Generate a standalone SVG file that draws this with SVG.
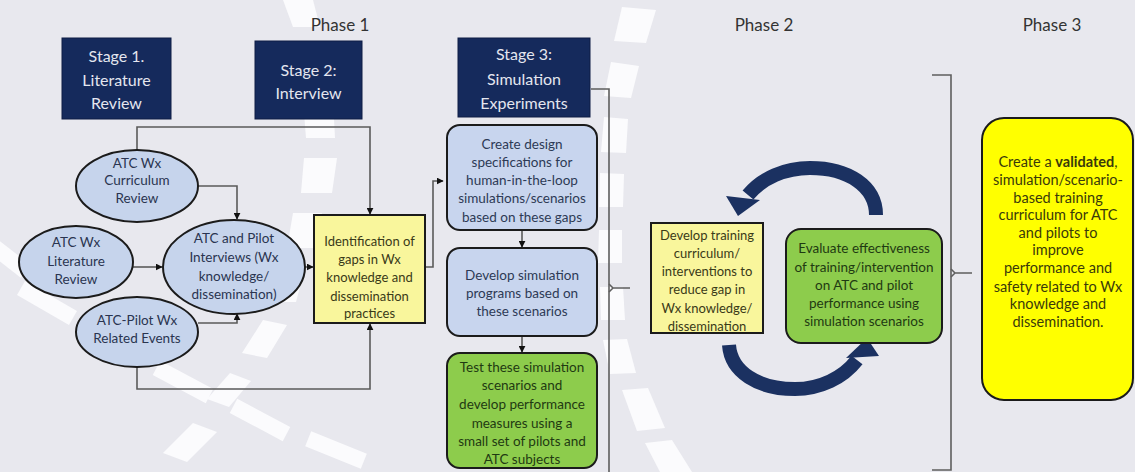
<svg xmlns="http://www.w3.org/2000/svg" width="1135" height="472" viewBox="0 0 1135 472">
  <defs>
    <style>
      .bg { fill: #e8e8ee; }
      .dash { fill: #fbfbfd; }
      .phase { font-family: Lato, "Liberation Sans", sans-serif; font-size: 17px; fill: #333; text-anchor: middle; }
      .stage rect { fill: #152a5c; stroke: #0e1d44; stroke-width: 1; }
      .stage text { font-family: Lato, "Liberation Sans", sans-serif; font-size: 16px; fill: #e4e6ef; text-anchor: middle; }
      .ell ellipse { fill: #c6d4ec; stroke: #1b1b1b; stroke-width: 2; }
      .ell text { font-family: Lato, "Liberation Sans", sans-serif; font-size: 13.5px; fill: #2a3450; text-anchor: middle; }
      .pale rect { fill: #f9f69c; stroke: #1b1b1b; stroke-width: 2; }
      .pale text { font-family: Lato, "Liberation Sans", sans-serif; font-size: 13px; fill: #3a3a18; text-anchor: middle; }
      .blue rect { fill: #c8d5ee; stroke: #1b1b1b; stroke-width: 2; }
      .blue text { font-family: Lato, "Liberation Sans", sans-serif; font-size: 13.5px; fill: #2d3a55; text-anchor: middle; }
      .green rect { fill: #8dcc4c; stroke: #1b1b1b; stroke-width: 2; }
      .green text { font-family: Lato, "Liberation Sans", sans-serif; font-size: 13.5px; fill: #1f3a12; text-anchor: middle; }
      .goal rect { fill: #ffff00; stroke: #1b1b1b; stroke-width: 2; }
      .goal text { font-family: Lato, "Liberation Sans", sans-serif; font-size: 14.5px; fill: #3a3a0a; text-anchor: middle; }
      .link { fill: none; stroke: #5a5a5a; stroke-width: 1.6; }
      .brace { fill: none; stroke: #5e5e5e; stroke-width: 1.6; }
      .cycle { fill: none; stroke: #1b3161; stroke-width: 14; }
      .cyclehead { fill: #1b3161; }
    </style>
    <marker id="ah" viewBox="0 0 10 10" refX="9" refY="5" markerWidth="7" markerHeight="7" markerUnits="userSpaceOnUse" orient="auto">
      <path d="M0,0 L10,5 L0,10 z" fill="#111"/>
    </marker>
  </defs>

  <!-- backdrop with dashed road markings -->
  <rect class="bg" x="0" y="0" width="1135" height="472"/>
  <g id="road-markings">
    <!-- lane running from the top toward the lower left -->
    <polygon class="dash" points="283,0 313,0 320,27 293,27"/>
    <polygon class="dash" points="303,100 333,100 335,138 306,138"/>
    <polygon class="dash" points="304,158 337,158 332,193 301,193"/>
    <polygon class="dash" points="293,213 322,213 315,248 287,248"/>
    <polygon class="dash" points="276,268 305,268 296,302 266,302"/>
    <polygon class="dash" points="263,320 287,325 267,358 242,353"/>
    <polygon class="dash" points="230,373 251,381 229,407 207,399"/>
    <polygon class="dash" points="193,423 217,432 187,462 163,453"/>
    <!-- lane running from the left toward the lower right -->
    <rect class="dash" x="-25" y="-8" width="50" height="16" transform="translate(6,256) rotate(38)"/>
    <rect class="dash" x="-30" y="-8" width="60" height="16" transform="translate(47,303) rotate(30)"/>
    <rect class="dash" x="-30" y="-8" width="60" height="16" transform="translate(183,382) rotate(28)"/>
    <rect class="dash" x="-30" y="-8" width="60" height="16" transform="translate(260,420) rotate(28)"/>
    <rect class="dash" x="-30" y="-8" width="60" height="16" transform="translate(336,450) rotate(22)"/>
    <!-- lane on the right of stage 3 -->
    <polygon class="dash" points="622,7 656,10 646,43 614,41"/>
    <polygon class="dash" points="611,62 639,66 631,98 604,96"/>
    <polygon class="dash" points="604,117 628,119 626,153 601,152"/>
    <polygon class="dash" points="600,173 624,174 623,207 599,207"/>
    <polygon class="dash" points="599,230 622,230 622,263 598,263"/>
    <polygon class="dash" points="600,287 623,287 625,320 601,320"/>
    <polygon class="dash" points="603,340 627,339 636,373 610,374"/>
    <polygon class="dash" points="622,390 648,388 665,428 637,431"/>
    <polygon class="dash" points="645,443 672,440 692,472 660,472"/>
  </g>

  <!-- phase headings -->
  <g id="phase-headings">
    <text class="phase" x="340" y="31">Phase 1</text>
    <text class="phase" x="764" y="31">Phase 2</text>
    <text class="phase" x="1052" y="31">Phase 3</text>
  </g>

  <!-- connectors -->
  <g id="connectors">
    <path class="link" d="M137 150 V127 H370 V214" marker-end="url(#ah)"/>
    <path class="link" d="M198 186 H237 V219" marker-end="url(#ah)"/>
    <path class="link" d="M133 267 H162" marker-end="url(#ah)"/>
    <path class="link" d="M198 323 H237 V314" marker-end="url(#ah)"/>
    <path class="link" d="M304 267 H313" marker-end="url(#ah)"/>
    <path class="link" d="M137 367 V389 H370 V324" marker-end="url(#ah)"/>
    <path class="link" d="M426 267 H433 V181 H443" marker-end="url(#ah)"/>
    <path class="link" d="M522 230 V247" marker-end="url(#ah)"/>
    <path class="link" d="M522 336 V352" marker-end="url(#ah)"/>
    <!-- braces grouping stage 3 into phase 2 and phase 2 into phase 3 -->
    <path class="brace" d="M591 89 H609 V472"/>
    <path class="brace" d="M609 284 L613 288 H630 M613 288 L609 292"/>
    <path class="brace" d="M932 75 H951 V470 H932"/>
    <path class="brace" d="M951 269 L955 273 H972 M955 273 L951 277"/>
    <!-- improvement cycle arrows -->
    <path class="cycle" d="M876 215 C876 186 848 168 810 168 C785 168 762 178 748 195"/>
    <polygon class="cyclehead" points="726,196 760,200 738,216"/>
    <path class="cycle" d="M729 345 C731 372 758 389 795 389 C820 389 843 378 857 360" style="stroke-width:14"/>
    <polygon class="cyclehead" points="846,358 879,356 867,338"/>
  </g>

  <!-- stage headers -->
  <g id="stage1" class="stage">
    <rect x="62" y="38" width="109" height="81"/>
    <text x="116.5" y="62">Stage 1.</text>
    <text x="116.5" y="86">Literature</text>
    <text x="116.5" y="109">Review</text>
  </g>
  <g id="stage2" class="stage">
    <rect x="255" y="41" width="107" height="78"/>
    <text x="308.5" y="76">Stage 2:</text>
    <text x="308.5" y="99">Interview</text>
  </g>
  <g id="stage3" class="stage">
    <rect x="458" y="38" width="132" height="79"/>
    <text x="524" y="60">Stage 3:</text>
    <text x="524" y="85">Simulation</text>
    <text x="524" y="109">Experiments</text>
  </g>

  <!-- stage 1 and 2 sources -->
  <g id="curriculum-review" class="ell">
    <ellipse cx="137" cy="186" rx="61" ry="36"/>
    <text x="137" y="167.5">ATC Wx</text>
    <text x="137" y="184.5">Curriculum</text>
    <text x="137" y="202.5">Review</text>
  </g>
  <g id="literature-review" class="ell">
    <ellipse cx="76" cy="262" rx="57" ry="36"/>
    <text x="76" y="246.5">ATC Wx</text>
    <text x="76" y="265.5">Literature</text>
    <text x="76" y="283.5">Review</text>
  </g>
  <g id="interviews" class="ell">
    <ellipse cx="234" cy="267" rx="71" ry="47"/>
    <text x="234" y="242.5">ATC and Pilot</text>
    <text x="234" y="261.5">Interviews (Wx</text>
    <text x="234" y="281">knowledge/</text>
    <text x="234" y="298.5">dissemination)</text>
  </g>
  <g id="related-events" class="ell">
    <ellipse cx="137" cy="332" rx="61" ry="35"/>
    <text x="137" y="324.5">ATC-Pilot Wx</text>
    <text x="137" y="342.5">Related Events</text>
  </g>
  <g id="gap-identification" class="pale">
    <rect x="314" y="215" width="111" height="108"/>
    <text x="369.5" y="245.5">Identification of</text>
    <text x="369.5" y="263.5">gaps in Wx</text>
    <text x="369.5" y="281.5">knowledge and</text>
    <text x="369.5" y="300.5">dissemination</text>
    <text x="369.5" y="317.5">practices</text>
  </g>

  <!-- stage 3 steps -->
  <g id="design-specs" class="blue">
    <rect x="447" y="125" width="150" height="105" rx="13"/>
    <text x="522" y="148.5">Create design</text>
    <text x="522" y="166.5">specifications for</text>
    <text x="522" y="184.5">human-in-the-loop</text>
    <text x="522" y="202.5">simulations/scenarios</text>
    <text x="522" y="221.5">based on these gaps</text>
  </g>
  <g id="simulation-programs" class="blue">
    <rect x="447" y="248" width="150" height="88" rx="13"/>
    <text x="522" y="279.5">Develop simulation</text>
    <text x="522" y="297.5">programs based on</text>
    <text x="522" y="315.5">these scenarios</text>
  </g>
  <g id="scenario-tests" class="green">
    <rect x="447" y="353" width="150" height="115" rx="13"/>
    <text x="522" y="371.5">Test these simulation</text>
    <text x="522" y="389.5">scenarios and</text>
    <text x="522" y="408.5">develop performance</text>
    <text x="522" y="427.5">measures using a</text>
    <text x="522" y="445.5">small set of pilots and</text>
    <text x="522" y="463.5">ATC subjects</text>
  </g>

  <!-- phase 2 cycle -->
  <g id="training-development" class="pale">
    <rect x="651" y="223" width="112" height="110"/>
    <text x="707" y="239.5">Develop training</text>
    <text x="707" y="257.5">curriculum/</text>
    <text x="707" y="275.5">interventions to</text>
    <text x="707" y="293.5">reduce gap in</text>
    <text x="707" y="312.5">Wx knowledge/</text>
    <text x="707" y="330.5">dissemination</text>
  </g>
  <g id="training-evaluation" class="green">
    <rect x="786" y="229" width="156" height="114" rx="15"/>
    <text x="864" y="252.5">Evaluate effectiveness</text>
    <text x="864" y="271.5">of training/intervention</text>
    <text x="864" y="289.5">on ATC and pilot</text>
    <text x="864" y="307.5">performance using</text>
    <text x="864" y="325.5">simulation scenarios</text>
  </g>

  <!-- phase 3 outcome -->
  <g id="validated-curriculum" class="goal">
    <rect x="982" y="118" width="151" height="282" rx="22"/>
    <text x="1058" y="167">Create a <tspan font-weight="bold">validated</tspan>,</text>
    <text x="1058" y="185">simulation/scenario-</text>
    <text x="1058" y="203">based training</text>
    <text x="1058" y="220">curriculum for ATC</text>
    <text x="1058" y="238">and pilots to</text>
    <text x="1058" y="255">improve</text>
    <text x="1058" y="273">performance and</text>
    <text x="1058" y="292">safety related to Wx</text>
    <text x="1058" y="309">knowledge and</text>
    <text x="1058" y="327">dissemination.</text>
  </g>
</svg>
